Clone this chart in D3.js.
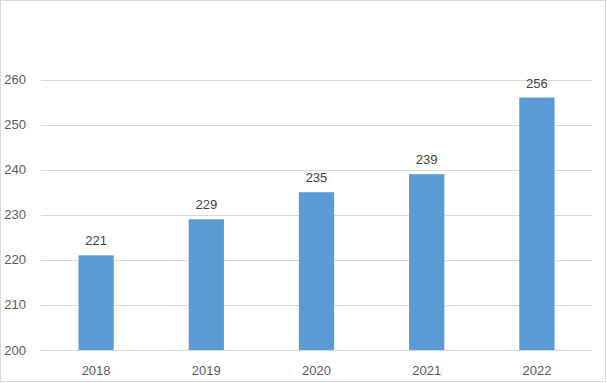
<!DOCTYPE html>
<html><head><meta charset="utf-8">
<script src="https://cdn.jsdelivr.net/npm/d3@7"></script>
<style>body{margin:0;background:#fff}svg{display:block}</style>
</head><body>
<script>
const categories = ["2018","2019","2020","2021","2022"];
const values = [221,229,235,239,256];
const yTicks = [200,210,220,230,240,250,260];

(function(){
const W=607,H=383;
const svg=d3.select("body").append("svg").attr("width",W).attr("height",H);
svg.append("rect").attr("x",0.5).attr("y",0.5).attr("width",W-2).attr("height",H-2)
  .attr("fill","#fff").attr("stroke","#d9d9d9");
const mLeft=41,mRight=592,mTop=79.5,mBottom=350;
const x=d3.scaleBand().domain(categories).range([mLeft,mRight]).paddingInner(0.68).paddingOuter(0.34);
const y=d3.scaleLinear().domain([200,260]).range([mBottom,mTop]);
const font="'Liberation Sans', Arial, sans-serif";
svg.append("g").selectAll("line").data(yTicks).join("line")
  .attr("x1",mLeft).attr("x2",mRight).attr("y1",d=>Math.round(y(d))+0.5).attr("y2",d=>Math.round(y(d))+0.5)
  .attr("stroke","#d9d9d9").attr("stroke-width",1);
svg.append("g").selectAll("text").data(yTicks).join("text")
  .attr("x",26).attr("y",d=>y(d)+4.5).attr("text-anchor","end")
  .attr("font-family",font).attr("font-size",13).attr("fill","#595959").text(d=>d);
svg.append("g").selectAll("rect").data(values).join("rect")
  .attr("x",(d,i)=>x(categories[i])).attr("width",x.bandwidth())
  .attr("y",d=>y(d)).attr("height",d=>mBottom-y(d)).attr("fill","#5b9bd5");
svg.append("g").selectAll("text").data(values).join("text")
  .attr("x",(d,i)=>x(categories[i])+x.bandwidth()/2).attr("y",d=>y(d)-10)
  .attr("text-anchor","middle").attr("font-family",font).attr("font-size",13).attr("fill","#404040").text(d=>d);
svg.append("g").selectAll("text").data(categories).join("text")
  .attr("x",d=>x(d)+x.bandwidth()/2).attr("y",375)
  .attr("text-anchor","middle").attr("font-family",font).attr("font-size",13).attr("fill","#595959").text(d=>d);
})();
</script>
</body></html>
